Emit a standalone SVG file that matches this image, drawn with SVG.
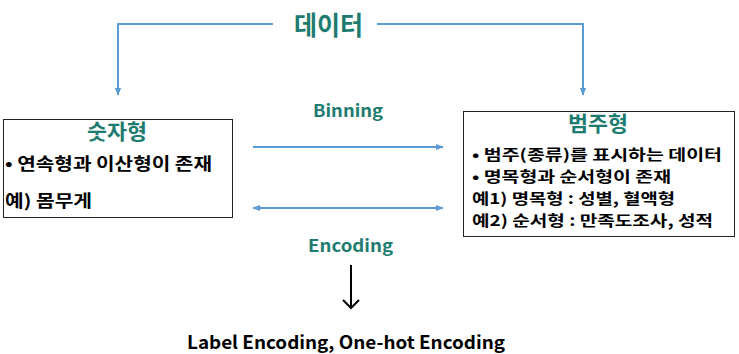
<svg xmlns="http://www.w3.org/2000/svg" width="739" height="354" viewBox="0 0 739 354">
<defs>
<style>
.teal{fill:#1E7B70;font-family:"Noto Sans CJK KR","Noto Sans",sans-serif;font-weight:700}
.body{fill:#000;font-family:"Noto Sans CJK KR","Noto Sans",sans-serif;font-weight:700;font-size:17px}
.rb{font-size:15px}
.box{fill:#fff;stroke:#222;stroke-width:1}
.conn{stroke:#5B9BD5;stroke-width:2;fill:none}
</style>
<marker id="ah" viewBox="0 0 10 10" refX="9" refY="5" markerWidth="4" markerHeight="4" orient="auto-start-reverse"><path d="M0,1 L10,5 L0,9 Z" fill="#5B9BD5"/></marker>
</defs>
<g id="title">
<text class="teal" x="294" y="35" font-size="26" textLength="69" lengthAdjust="spacingAndGlyphs">데이터</text>
</g>
<g id="numeric">
<rect class="box" x="3.5" y="119.5" width="229" height="98"/>
<text class="teal" x="87" y="139" font-size="21" textLength="60" lengthAdjust="spacingAndGlyphs">숫자형</text>
<text class="body" x="5" y="170" textLength="207" lengthAdjust="spacingAndGlyphs">• 연속형과 이산형이 존재</text>
<text class="body" x="5" y="207" textLength="87" lengthAdjust="spacingAndGlyphs">예) 몸무게</text>
</g>
<g id="categorical">
<rect class="box" x="463.5" y="111.5" width="271" height="125"/>
<text class="teal" x="568" y="131" font-size="21" textLength="60" lengthAdjust="spacingAndGlyphs">범주형</text>
<text class="body rb" x="472" y="160" textLength="250" lengthAdjust="spacingAndGlyphs">• 범주(종류)를 표시하는 데이터</text>
<text class="body rb" x="472" y="182" textLength="199" lengthAdjust="spacingAndGlyphs">• 명목형과 순서형이 존재</text>
<text class="body rb" x="472" y="204" textLength="203" lengthAdjust="spacingAndGlyphs">예1) 명목형 : 성별, 혈액형</text>
<text class="body rb" x="472" y="226" textLength="241" lengthAdjust="spacingAndGlyphs">예2) 순서형 : 만족도조사, 성적</text>
</g>
<g id="labels">
<text class="teal" x="313" y="117" font-size="17" textLength="70" lengthAdjust="spacingAndGlyphs">Binning</text>
<text class="teal" x="308" y="252" font-size="17" textLength="85" lengthAdjust="spacingAndGlyphs">Encoding</text>
<text class="body" x="187" y="349" style="font-size:18px" textLength="318" lengthAdjust="spacingAndGlyphs">Label Encoding, One-hot Encoding</text>
</g>
<g id="connectors">
<path class="conn" d="M273,24 H118 V95" marker-end="url(#ah)"/>
<path class="conn" d="M377,24 H583 V95" marker-end="url(#ah)"/>
<path class="conn" d="M253,147 H443" marker-end="url(#ah)"/>
<path class="conn" d="M253,208 H443" marker-start="url(#ah)" marker-end="url(#ah)"/>
<path d="M351,265 V308 M343,300 L351,308 L359,300" stroke="#000" stroke-width="2" fill="none"/>
</g>
</svg>
